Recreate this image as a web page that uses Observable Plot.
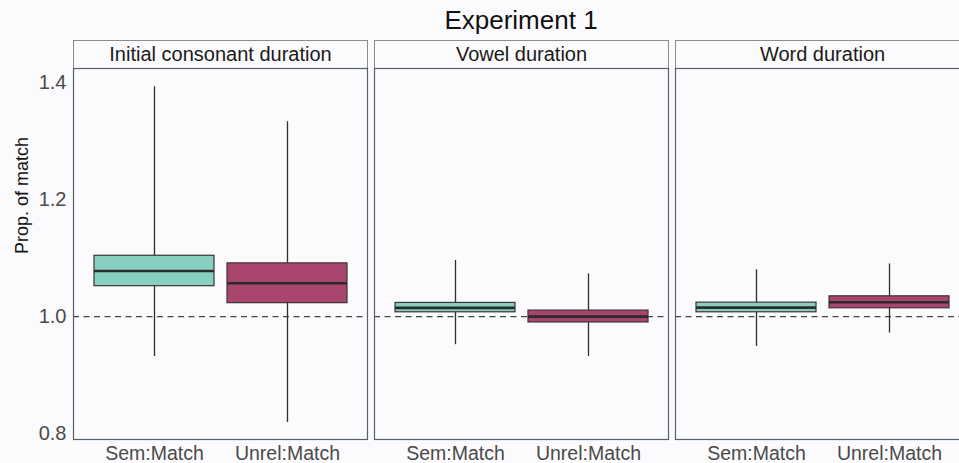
<!DOCTYPE html>
<html>
<head>
<meta charset="utf-8">
<script src="https://cdn.jsdelivr.net/npm/d3@7"></script>
<script src="https://cdn.jsdelivr.net/npm/@observablehq/plot@0.6"></script>
<style>
  html, body { margin: 0; padding: 0; background: #fbfbfd; overflow: hidden; }
  #title { width: 959px; height: 40px; line-height: 40px; text-align: center;
    font-family: "Liberation Sans", Arial, sans-serif; font-size: 26px; color: #111; padding-left: 83px; box-sizing: border-box; }
  svg { display: block; background: transparent; overflow: hidden; }
</style>
</head>
<body>
<div id="title">Experiment 1</div>
<div id="chart"></div>
<script>
const panels = ["Initial consonant duration", "Vowel duration", "Word duration"];
const conditions = ["Sem:Match", "Unrel:Match"];
const colors = ["#88cfc1", "#a8466f"];
const yTicks = [0.8, 1.0, 1.2, 1.4];

// per panel, [Sem:Match, Unrel:Match]
const whiskerLow  = [[0.932, 0.819], [0.952, 0.932], [0.949, 0.972]];
const q1          = [[1.052, 1.023], [1.0074, 0.990], [1.0074, 1.0142]];
const median      = [[1.078, 1.057], [1.015, 1.000], [1.0154, 1.0245]];
const q3          = [[1.104, 1.091], [1.0234, 1.0103], [1.0239, 1.0347]];
const whiskerHigh = [[1.393, 1.333], [1.096, 1.073], [1.080, 1.090]];

const rows = [];
panels.forEach((p, i) => conditions.forEach((c, j) => rows.push({
  panel: p, cond: c,
  lo: whiskerLow[i][j], q1: q1[i][j], med: median[i][j], q3: q3[i][j], hi: whiskerHigh[i][j]
})));

// the right-hand panel runs past the picture's edge, as in the source figure
const W = 959, H = 423, mT = 28, mB = 24, mR = -12;
const frameH = H - mT - mB;

const chart = Plot.plot({
  width: W, height: H,
  marginLeft: 72, marginRight: mR, marginTop: mT, marginBottom: mB,
  style: { fontFamily: "'Liberation Sans', Arial, sans-serif", background: "transparent", overflow: "hidden" },
  fx: { domain: panels, axis: null, paddingInner: 0.0216, paddingOuter: 0, label: null },
  x: { domain: conditions, paddingInner: 0.1, paddingOuter: 0.15 },
  y: { domain: [0.79, 1.424], label: null },
  color: { domain: conditions, range: colors },
  marks: [
    Plot.frame({ fill: "#fbfbfd" }),
    Plot.frame({ dy: -mT, insetBottom: frameH - mT, fill: "#fbfbfd", stroke: "#8c8c8c" }),
    Plot.text(panels, { fx: d => d, text: d => d, frameAnchor: "top", lineAnchor: "middle", dy: -14, fontSize: 20, fill: "#1a1a1a" }),
    Plot.ruleY([1], { stroke: "#444", strokeWidth: 1.4, strokeDasharray: "6,4.5" }),
    Plot.ruleX(rows, { fx: "panel", x: "cond", y1: "lo", y2: "hi", stroke: "#2e2e2e", strokeWidth: 1.3 }),
    Plot.barY(rows, { fx: "panel", x: "cond", y1: "q1", y2: "q3", fill: "cond", stroke: "#3d3535", strokeWidth: 1.2 }),
    Plot.tickY(rows, { fx: "panel", x: "cond", y: "med", stroke: "#2b2b2b", strokeWidth: 2.6 }),
    Plot.frame({ stroke: "#56606a", strokeWidth: 1.2 }),
    Plot.axisY({ ticks: yTicks, tickFormat: d3.format(".1f"), tickSize: 0, tickPadding: 7, fontSize: 20, fill: "#4a4a4a", label: null }),
    Plot.axisX({ tickSize: 0, tickPadding: 7, fontSize: 19.5, fill: "#4a4a4a", label: null }),
    Plot.text([{ panel: panels[0], label: "Prop. of match" }], { fx: "panel", text: "label", frameAnchor: "left", rotate: -90, dx: -51.5, fontSize: 18, fill: "#111" })
  ]
});
document.getElementById("chart").appendChild(chart);
</script>
</body>
</html>
